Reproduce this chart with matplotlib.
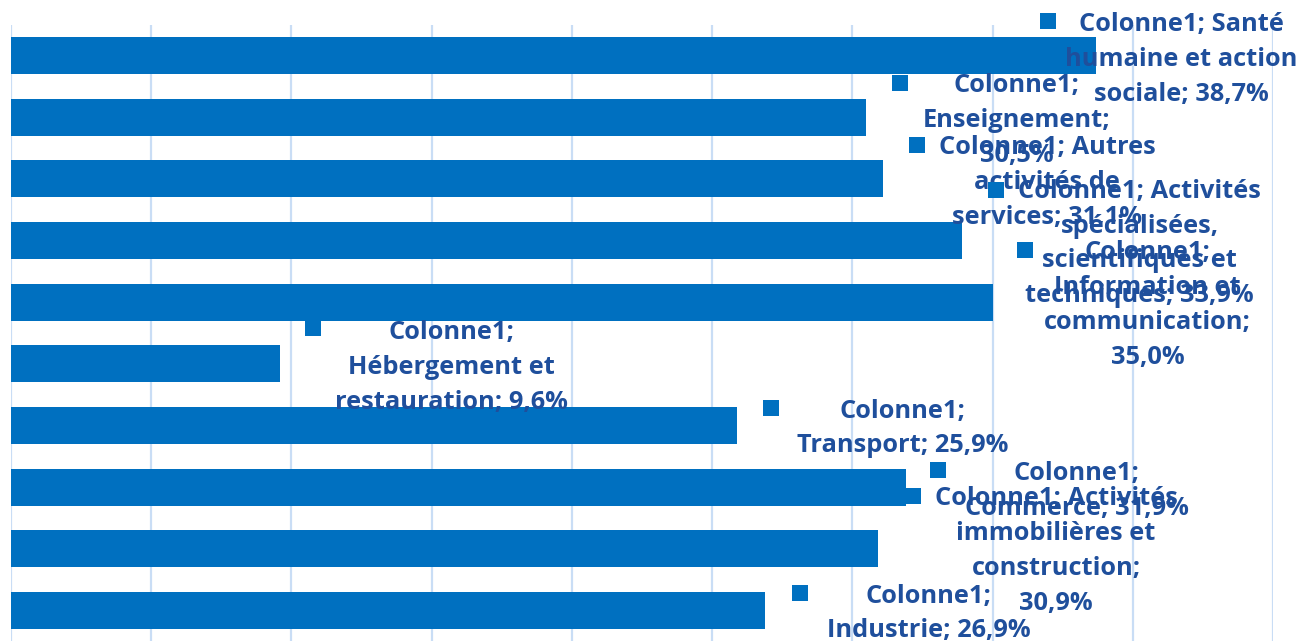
import matplotlib
matplotlib.use("Agg")
import matplotlib.pyplot as plt
from matplotlib.transforms import offset_copy

# ---- data ----
categories = [
    "Santé humaine et action sociale",
    "Enseignement",
    "Autres activités de services",
    "Activités spécialisées, scientifiques et techniques",
    "Information et communication",
    "Hébergement et restauration",
    "Transport",
    "Commerce",
    "Activités immobilières et construction",
    "Industrie",
]
values = [38.7, 30.5, 31.1, 33.9, 35.0, 9.6, 25.9, 31.9, 30.9, 26.9]
series_name = "Colonne1"

# label text with line breaks as in the reference ({s}=series, {v}=value)
label_templates = [
    "{s}; Santé\nhumaine et action\nsociale; {v}",
    "{s};\nEnseignement;\n{v}",
    "{s}; Autres\nactivités de\nservices; {v}",
    "{s}; Activités\nspécialisées,\nscientifiques et\ntechniques; {v}",
    "{s};\nInformation et\ncommunication;\n{v}",
    "{s};\nHébergement et\nrestauration; {v}",
    "{s};\nTransport; {v}",
    "{s};\nCommerce; {v}",
    "{s}; Activités\nimmobilières et\nconstruction;\n{v}",
    "{s};\nIndustrie; {v}",
]

# ---- layout (pixel offsets from bar end / bar centre; +x right, +y down) ----
text_off = [(85, 4), (150, 3.5), (164, 3.5), (178, 3), (155, 3),
            (171, 4), (165.5, 3), (171, 3.5), (178.5, 2.5), (163, 3)]
key_off = [(-48, -34.5), (34, -34.5), (34, -34), (34, -50.5), (32.6, -52),
           (33, -36), (34, -17.5), (32.5, -17), (35, -52.5), (35, -17.5)]

BAR = "#0070C0"
TXT = "#1F4F9C"
GRID = "#C9DDF5"

W, H = 1297, 643
fig = plt.figure(figsize=(W / 100, H / 100), dpi=100)
ax = fig.add_axes([11 / W, 1.7 / H, (1273 - 11) / W, (641.3 - 24.7) / H])

ypos = list(range(len(categories)))
ax.barh(ypos, values, height=0.6, color=BAR, zorder=2)
ax.set_xlim(0, 45)
ax.set_ylim(len(categories) - 0.5, -0.5)
ax.set_xticks([5 * i for i in range(10)])
ax.grid(axis="x", color=GRID, linewidth=1.6, zorder=0)
ax.set_axisbelow(True)
ax.tick_params(left=False, bottom=False, labelleft=False, labelbottom=False)
for sp in ax.spines.values():
    sp.set_visible(False)

font = dict(family=["Open Sans", "DejaVu Sans"], weight="bold", size=18.3)

for i, (v, tpl) in enumerate(zip(values, label_templates)):
    vs = f"{v:.1f}%".replace(".", ",")
    txt = tpl.format(s=series_name, v=vs)
    tdx, tdy = text_off[i]
    ax.annotate(txt, xy=(v, i), xytext=(tdx, -tdy), textcoords="offset pixels",
                ha="center", va="center", multialignment="center",
                color=TXT, linespacing=1.52, annotation_clip=False, zorder=5,
                **font)
    kdx, kdy = key_off[i]
    tr = offset_copy(ax.transData, fig=fig, x=kdx, y=-kdy, units="dots")
    ax.plot([v], [i], marker="s", markersize=11.5, markeredgewidth=0,
            color=BAR, transform=tr, clip_on=False, zorder=6)

fig.savefig("out.png", dpi=100)
